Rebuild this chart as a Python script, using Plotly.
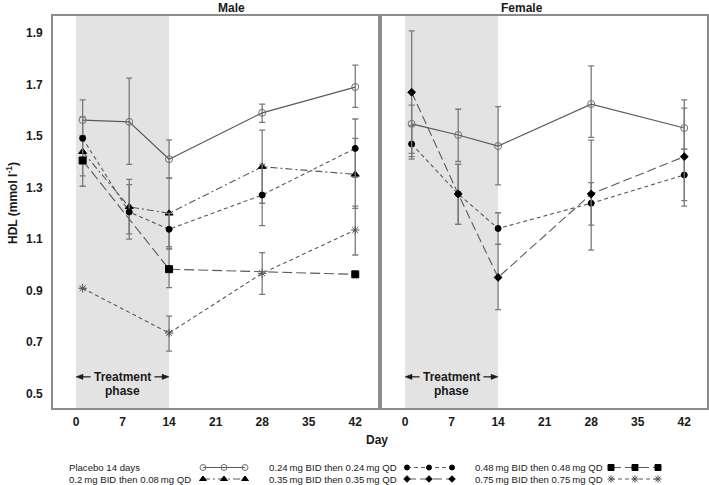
import plotly.graph_objects as go

# ---------------- data ----------------
days = [1, 8, 14, 28, 42]
days_048 = [1, 14, 42]
days_075 = [1, 14, 28, 42]
y_ticks = [0.5, 0.7, 0.9, 1.1, 1.3, 1.5, 1.7, 1.9]
x_ticks = [0, 7, 14, 21, 28, 35, 42]

# Male
m_placebo = [1.562, 1.555, 1.41, 1.59, 1.69]
m_placebo_hi = [1.64, 1.725, 1.485, 1.624, 1.775]
m_placebo_lo = [1.50, 1.39, 1.336, 1.553, 1.611]
m_020 = [1.439, 1.225, 1.20, 1.381, 1.351]
m_020_hi = [1.50, 1.332, 1.336, 1.523, 1.491]
m_020_lo = [1.305, 1.12, 1.07, 1.239, 1.219]
m_024 = [1.491, 1.205, 1.138, 1.271, 1.452]
m_024_hi = [1.575, 1.311, 1.20, 1.39, 1.566]
m_024_lo = [1.345, 1.10, 1.062, 1.152, 1.34]
m_048 = [1.405, 0.983, 0.963]
m_048_hi = [None, 1.062, None]
m_048_lo = [None, 0.911, None]
m_075 = [0.909, 0.735, 0.967, 1.135]
m_075_hi = [None, 0.801, 1.047, 1.228]
m_075_lo = [None, 0.665, 0.885, 1.038]

# Female
f_placebo = [1.547, 1.504, 1.461, 1.624, 1.531]
f_placebo_hi = [1.62, 1.604, 1.614, 1.772, 1.64]
f_placebo_lo = [1.433, 1.401, 1.31, 1.495, 1.449]
f_024 = [1.469, 1.275, 1.141, 1.239, 1.349]
f_024_hi = [1.54, 1.39, 1.202, 1.319, 1.449]
f_024_lo = [1.41, 1.157, 1.079, 1.154, 1.228]
f_035 = [1.67, 1.275, 0.951, 1.275, 1.42]
f_035_hi = [1.908, 1.39, 1.079, 1.484, 1.608]
f_035_lo = [1.42, 1.157, 0.826, 1.057, 1.249]

legend_labels = {
    "placebo": "Placebo 14 days",
    "020": "0.2\u2009mg BID then 0.08\u2009mg QD",
    "024": "0.24\u2009mg BID then 0.24\u2009mg QD",
    "035": "0.35\u2009mg BID then 0.35\u2009mg QD",
    "048": "0.48\u2009mg BID then 0.48\u2009mg QD",
    "075": "0.75\u2009mg BID then 0.75\u2009mg QD",
}

# ---------------- styles ----------------
LINE = "#5a5a5a"
ERR = "#7a7a7a"
styles = {
    "placebo": dict(dash="solid", symbol="circle-open", size=7, mcolor="#6e6e6e", lw=1.2),
    "020": dict(dash="7px,3px,2px,3px", symbol="triangle-up", size=7, mcolor="black", lw=1.1),
    "024": dict(dash="4px,3px", symbol="circle", size=6, mcolor="black", lw=1.1),
    "035": dict(dash="9px,4px", symbol="diamond", size=6, mcolor="black", lw=1.1),
    "048": dict(dash="10px,4px", symbol="square", size=7, mcolor="black", lw=1.1),
    "075": dict(dash="4px,3px", symbol="asterisk-open", size=7, mcolor="#555555", lw=1.1),
}

FONT = "Liberation Sans, Arial, sans-serif"


def err(vals, hi, lo):
    up = [None if h is None else round(h - v, 4) for v, h in zip(vals, hi)]
    dn = [None if l is None else round(v - l, 4) for v, l in zip(vals, lo)]
    return up, dn


def series(x, y, hi, lo, key, xa, ya):
    st = styles[key]
    up, dn = err(y, hi, lo)
    return go.Scatter(
        x=x, y=y, mode="lines+markers", xaxis=xa, yaxis=ya, showlegend=False,
        line=dict(color=LINE, width=st["lw"], dash=st["dash"]),
        marker=dict(symbol=st["symbol"], size=st["size"], color=st["mcolor"],
                    line=dict(color=st["mcolor"], width=1)),
        error_y=dict(type="data", symmetric=False, array=up, arrayminus=dn,
                     color=ERR, thickness=1.3, width=3),
        cliponaxis=False,
    )


fig = go.Figure()
# male
fig.add_trace(series(days, m_placebo, m_placebo_hi, m_placebo_lo, "placebo", "x", "y"))
fig.add_trace(series(days, m_020, m_020_hi, m_020_lo, "020", "x", "y"))
fig.add_trace(series(days, m_024, m_024_hi, m_024_lo, "024", "x", "y"))
fig.add_trace(series(days_048, m_048, m_048_hi, m_048_lo, "048", "x", "y"))
fig.add_trace(series(days_075, m_075, m_075_hi, m_075_lo, "075", "x", "y"))
# female
fig.add_trace(series(days, f_placebo, f_placebo_hi, f_placebo_lo, "placebo", "x2", "y2"))
fig.add_trace(series(days, f_024, f_024_hi, f_024_lo, "024", "x2", "y2"))
fig.add_trace(series(days, f_035, f_035_hi, f_035_lo, "035", "x2", "y2"))

# ---------------- layout geometry ----------------
W, H = 709, 485
ML, MR, MT, MB = 53, 2, 16, 0
PW, PH = W - ML - MR, H - MT - MB
panel_bottom_px = 408
y_dom0 = (H - panel_bottom_px) / PH
male_dom = [0, 325 / PW]
female_dom = [329 / PW, 1]
yr = [0.444, 1.966]
xr = [-3.46, 45.42]

axis_common = dict(showgrid=False, zeroline=False, showline=True, mirror=True,
                   linecolor="#8c8c8c", linewidth=1.8, automargin=False)
tickfont = dict(family=FONT, size=12, color="#1a1a1a", weight="bold")

fig.update_layout(
    template="none",
    width=W, height=H,
    margin=dict(l=ML, r=MR, t=MT, b=MB, autoexpand=False),
    paper_bgcolor="white", plot_bgcolor="white",
    xaxis=dict(domain=male_dom, range=xr, tickvals=x_ticks, anchor="y",
               ticks="outside", ticklen=2, tickcolor="rgba(0,0,0,0)",
               tickfont=tickfont, **axis_common),
    yaxis=dict(domain=[y_dom0, 1], range=yr, tickvals=y_ticks, anchor="x",
               tickformat=".1f", ticks="outside", ticklen=6, tickcolor="rgba(0,0,0,0)",
               tickfont=tickfont, **axis_common),
    xaxis2=dict(domain=female_dom, range=xr, tickvals=x_ticks, anchor="y2",
                ticks="outside", ticklen=2, tickcolor="rgba(0,0,0,0)",
                tickfont=tickfont, **axis_common),
    yaxis2=dict(domain=[y_dom0, 1], range=yr, tickvals=y_ticks, anchor="x2",
                showticklabels=False, ticks="", **axis_common),
    # legend layer, in pixel units
    xaxis3=dict(domain=[0, 1], range=[ML, W - MR], visible=False, anchor="y3",
                fixedrange=True, automargin=False),
    yaxis3=dict(domain=[0, 30 / PH], range=[H, H - 30], visible=False, anchor="x3",
                fixedrange=True, automargin=False),
    showlegend=False,
)

shapes = []
annotations = []
ARROW_Y = 0.565
for xa, ya in (("x", "y"), ("x2", "y2")):
    shapes.append(dict(type="rect", xref=xa, yref=f"{ya} domain", x0=0, x1=14, y0=0, y1=1,
                       fillcolor="#e3e3e3", line=dict(width=0), layer="below"))
    annotations.append(dict(x=7, y=ARROW_Y, xref=xa, yref=ya, text="<b>Treatment</b>",
                            showarrow=False, font=dict(family=FONT, size=12, color="#1a1a1a")))
    annotations.append(dict(x=7, y=0.51, xref=xa, yref=ya, text="<b>phase</b>",
                            showarrow=False, font=dict(family=FONT, size=12, color="#1a1a1a")))
    # arrows: shaft + pixel-sized arrowhead
    for tip, tail, d in ((0, 2.2, 1), (14, 11.8, -1)):
        shapes.append(dict(type="line", xref=xa, yref=ya, x0=tail, x1=tip + d * 0.6,
                           y0=ARROW_Y, y1=ARROW_Y, line=dict(color="#1a1a1a", width=1.2)))
        shapes.append(dict(type="path", xref=xa, yref=ya, xsizemode="pixel",
                           ysizemode="pixel", xanchor=tip, yanchor=ARROW_Y,
                           path=f"M0,0 L{d * 7},2.6 L{d * 7},-2.6 Z",
                           fillcolor="#1a1a1a", line=dict(color="#1a1a1a", width=0.5)))

# panel titles
for dom, title in ((male_dom, "Male"), (female_dom, "Female")):
    annotations.append(dict(x=(dom[0] + dom[1]) / 2, y=1 + 8 / PH, xref="paper", yref="paper",
                            text=f"<b>{title}</b>", showarrow=False, yanchor="middle",
                            font=dict(family=FONT, size=12, color="#1a1a1a")))
# axis titles
annotations.append(dict(x=(377 - ML) / PW, y=(H - 440) / PH, xref="paper", yref="paper",
                        text="<b>Day</b>", showarrow=False, yanchor="middle",
                        font=dict(family=FONT, size=12, color="#1a1a1a")))
annotations.append(dict(x=(12 - ML) / PW, y=(H - 203) / PH, xref="paper", yref="paper",
                        text="<b>HDL (mmol l<sup>-1</sup>)</b>", showarrow=False,
                        textangle=-90, xanchor="center", yanchor="middle",
                        font=dict(family=FONT, size=12, color="#1a1a1a")))

# legend (text followed by a sample of the line style)
legend_cols = [67, 267, 473]
legend_rows = [467.5, 479]
legend_samples = [[203, 224, 245], [407, 429, 452], [611, 635, 658]]
legend_layout = [["placebo", "020"], ["024", "035"], ["048", "075"]]
for ci, col in enumerate(legend_layout):
    for ri, key in enumerate(col):
        st = styles[key]
        annotations.append(dict(x=legend_cols[ci], y=legend_rows[ri], xref="x3", yref="y3",
                                text=legend_labels[key], showarrow=False, xanchor="left",
                                yanchor="middle",
                                font=dict(family=FONT, size=9.6, color="#1a1a1a")))
        sx = legend_samples[ci]
        fig.add_trace(go.Scatter(
            x=sx, y=[legend_rows[ri]] * 3, xaxis="x3", yaxis="y3", mode="lines+markers",
            showlegend=False, hoverinfo="skip", cliponaxis=False,
            line=dict(color=LINE, width=1.1, dash=st["dash"]),
            marker=dict(symbol=st["symbol"], size=st["size"] - 1, color=st["mcolor"],
                        line=dict(color=st["mcolor"], width=1))))

fig.update_layout(shapes=shapes, annotations=annotations)
fig.write_html("out.html", config={"displayModeBar": False},
               post_script="document.body.style.margin='0px';document.body.style.padding='0px';")
